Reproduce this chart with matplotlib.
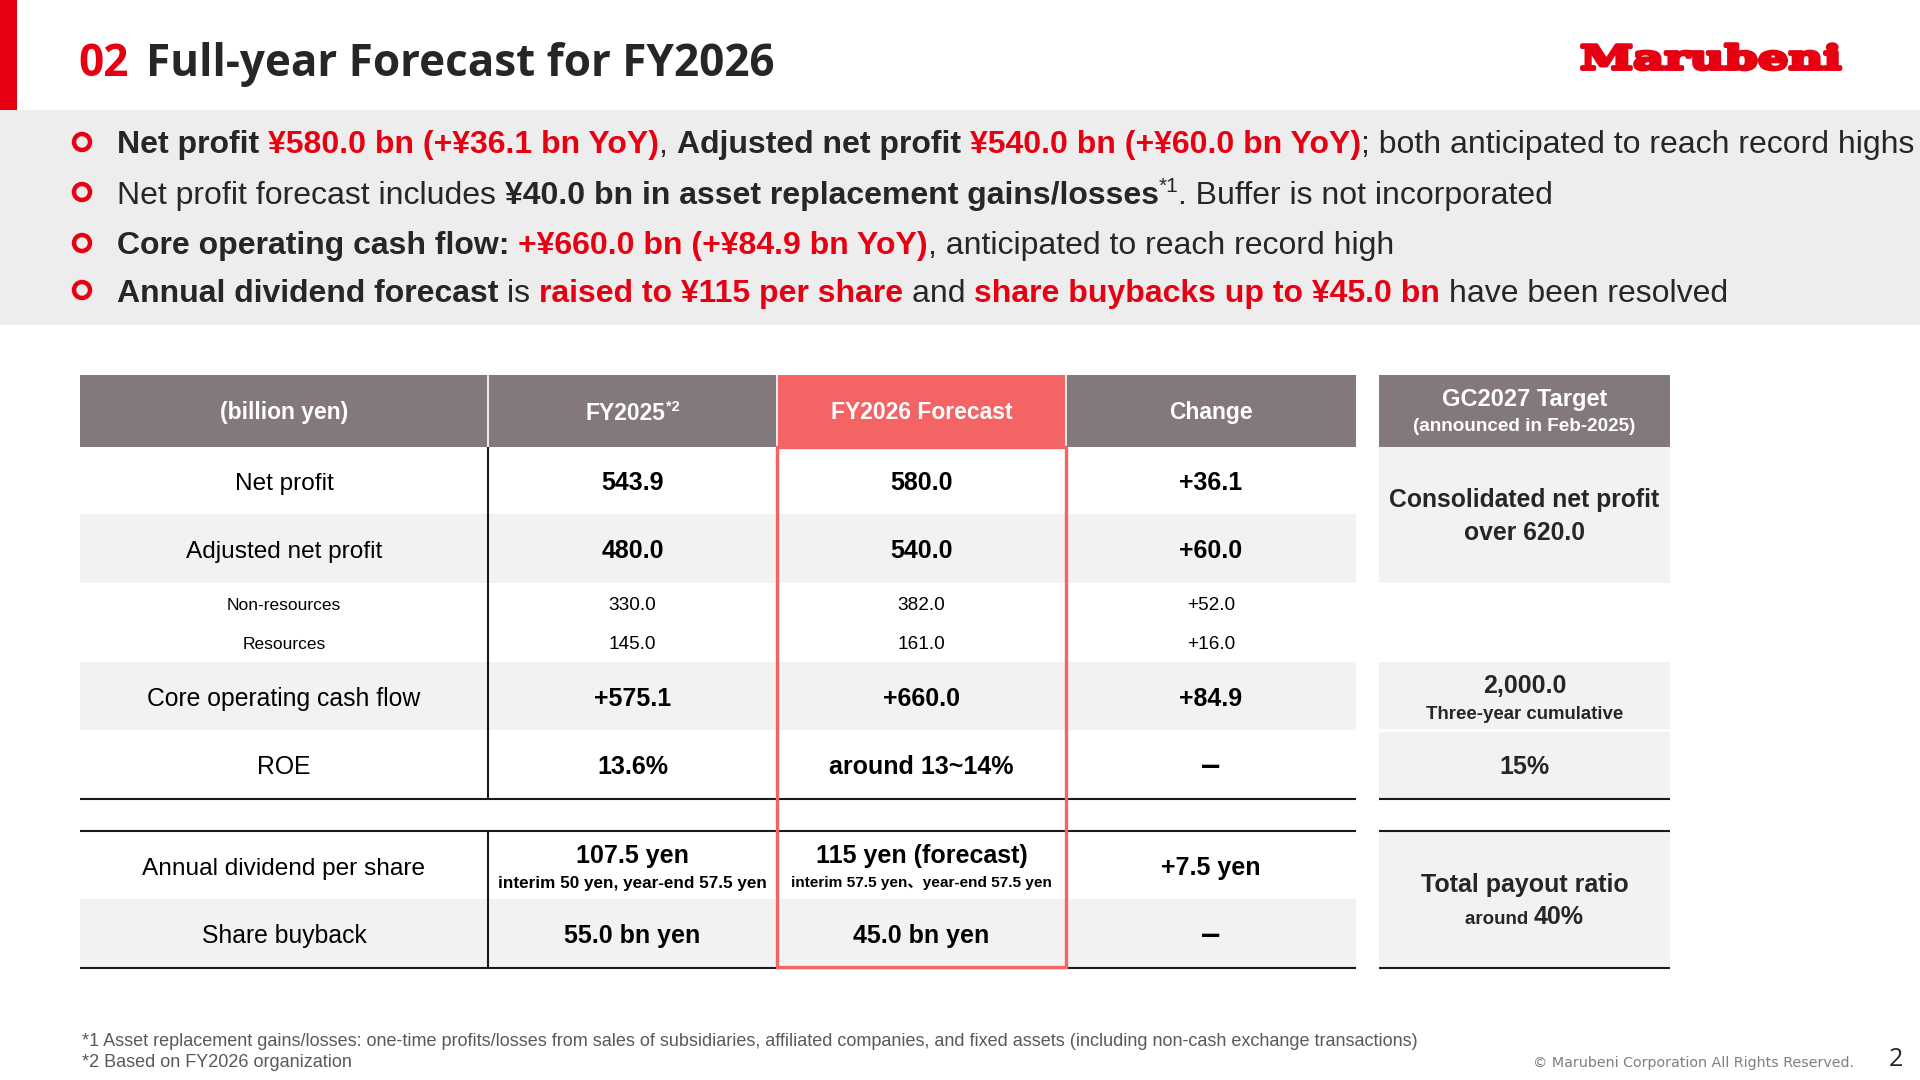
import matplotlib
matplotlib.use('Agg')
import matplotlib.pyplot as plt
from matplotlib.patches import Rectangle, Circle
from matplotlib.patheffects import AbstractPathEffect
from matplotlib.transforms import Affine2D

RED = '#E60012'
SALMON = '#F56464'
HEAD = '#83797C'
DARK = '#262626'
ROW = '#F2F2F2'
BODY = ['Liberation Sans', 'Noto Sans CJK JP']

# table content
headers = ['(billion yen)', 'FY2025', 'FY2026 Forecast', 'Change']
main_labels = ['Net profit', 'Adjusted net profit']
main_fy25 = ['543.9', '480.0']
main_fy26 = ['580.0', '540.0']
main_change = ['+36.1', '+60.0']
sub_labels = ['Non-resources', 'Resources']
sub_fy25 = ['330.0', '145.0']
sub_fy26 = ['382.0', '161.0']
sub_change = ['+52.0', '+16.0']
cf_roe_labels = ['Core operating cash flow', 'ROE']
cf_roe_fy25 = ['+575.1', '13.6%']
cf_roe_fy26 = ['+660.0', 'around 13~14%']
cf_roe_change = ['+84.9', '–']
div_fy25 = ['107.5 yen', 'interim 50 yen, year-end 57.5 yen']
div_fy26 = ['115 yen (forecast)', 'interim 57.5 yen、year-end 57.5 yen']
div_change = '+7.5 yen'
buyback = ['Share buyback', '55.0 bn yen', '45.0 bn yen', '–']

# bullets: (text, weight, colour)
bullets = [
    [('Net profit ', 'bold', DARK), ('¥580.0 bn (+¥36.1 bn YoY)', 'bold', RED), (', ', 'normal', DARK),
     ('Adjusted net profit ', 'bold', DARK), ('¥540.0 bn (+¥60.0 bn YoY)', 'bold', RED),
     ('; both anticipated to reach record highs', 'normal', DARK)],
    [('Net profit forecast includes ', 'normal', DARK), ('¥40.0 bn in asset replacement gains/losses', 'bold', DARK),
     ('*1', 'sup', DARK), ('. Buffer is not incorporated', 'normal', DARK)],
    [('Core operating cash flow: ', 'bold', DARK), ('+¥660.0 bn (+¥84.9 bn YoY)', 'bold', RED),
     (', anticipated to reach record high', 'normal', DARK)],
    [('Annual dividend forecast ', 'bold', DARK), ('is ', 'normal', DARK), ('raised to ¥115 per share ', 'bold', RED),
     ('and ', 'normal', DARK), ('share buybacks up to ¥45.0 bn ', 'bold', RED), ('have been resolved', 'normal', DARK)],
]
footnotes = ['*1 Asset replacement gains/losses: one-time profits/losses from sales of subsidiaries, '
             'affiliated companies, and fixed assets (including non-cash exchange transactions)',
             '*2 Based on FY2026 organization']

fig = plt.figure(figsize=(19.2, 10.8), dpi=100)
ax = fig.add_axes([0, 0, 1, 1])
ax.set_xlim(0, 1920)
ax.set_ylim(1080, 0)
ax.axis('off')
renderer = fig.canvas.get_renderer()


class StretchX(AbstractPathEffect):
    # widens a text around x0, for the logo
    def __init__(self, x0, sx, lw):
        super().__init__()
        self.x0, self.sx, self.lw = x0, sx, lw

    def draw_path(self, renderer, gc, tpath, affine, rgbFace=None):
        stretched = affine + Affine2D().translate(-self.x0, 0).scale(self.sx, 1).translate(self.x0, 0)
        gc0 = renderer.new_gc()
        gc0.copy_properties(gc)
        gc0.set_foreground(rgbFace)
        gc0.set_linewidth(self.lw)
        renderer.draw_path(gc0, tpath, stretched, rgbFace)
        gc0.restore()


def box(x0, y0, x1, y1, color):
    ax.add_patch(Rectangle((x0, y0), x1 - x0, y1 - y0, fc=color, ec='none', zorder=1))


def line(x0, y0, x1, y1, color='#1a1a1a', lw=1.5, z=3):
    ax.plot([x0, x1], [y0, y1], color=color, lw=lw, solid_capstyle='butt', zorder=z)


def advance(s, size, weight, family=BODY):
    # trailing spaces do not count in a bbox, so measure against a dot
    a = ax.text(0, 0, s + '.', fontsize=size, fontweight=weight, family=family)
    b = ax.text(0, 0, '.', fontsize=size, fontweight=weight, family=family)
    w = a.get_window_extent(renderer).width - b.get_window_extent(renderer).width
    a.remove()
    b.remove()
    return w


def label(x, y, s, size=17.8, weight='normal', color='black', family=BODY, ha='center'):
    ax.text(x, y, s, fontsize=size, fontweight=weight, color=color, family=family, ha=ha, va='baseline', zorder=5)


# title bar
box(0, 0, 17, 110, RED)
box(0, 110, 1920, 325, '#EDEDED')
label(78, 76, '02', 31.7, 'bold', RED, ['Open Sans'], 'left')
label(146, 76, 'Full-year Forecast for FY2026', 31.7, 'bold', DARK, ['Open Sans'], 'left')

# logo
ax.text(1580, 69, 'Marubeni', fontsize=23.5, fontweight='bold', color=RED, family='DejaVu Serif', ha='left',
        va='baseline', path_effects=[StretchX(1580, 1.47, 2.8)], zorder=5)

# bullets
for runs, yb, yc in zip(bullets, [153, 204, 254, 302], [142, 192, 243, 290]):
    ax.add_patch(Circle((82, yc), 8, fc='none', ec=RED, lw=3.2, zorder=5))
    x = 117
    for s, kind, col in runs:
        if kind == 'sup':
            label(x, yb - 12, s, 15, 'normal', col, ha='left')
            x += advance(s, 15, 'normal')
        else:
            label(x, yb, s, 23, kind, col, ha='left')
            x += advance(s, 23, kind)

# table geometry
cols = [80, 488, 777, 1066, 1356]
rx0, rx1 = 1379, 1670
centers = [(cols[i] + cols[i + 1]) / 2 for i in range(4)]
rc = (rx0 + rx1) / 2

# header
box(cols[0], 375, cols[2], 447, HEAD)
box(cols[2], 375, cols[3], 447, SALMON)
box(cols[3], 375, cols[4], 447, HEAD)
box(rx0, 375, rx1, 447, HEAD)
line(cols[1], 375, cols[1], 447, 'white', 1.2, 4)
line(cols[2], 375, cols[2], 447, 'white', 1.2, 4)
line(cols[3], 375, cols[3], 447, 'white', 1.2, 4)
label(centers[0], 419, headers[0], 16.5, 'bold', 'white')
label(625, 420, headers[1], 16.5, 'bold', 'white')
label(centers[2], 419, headers[2], 16.5, 'bold', 'white')
label(centers[3], 419, headers[3], 16.5, 'bold', 'white')
label(673, 411, '*2', 10.5, 'bold', 'white')
label(rc, 406, 'GC2027 Target', 17, 'bold', 'white')
label(rc, 431, '(announced in Feb-2025)', 13.6, 'bold', 'white')

# striped rows
box(cols[0], 514, cols[4], 583, ROW)
box(cols[0], 662, cols[4], 730, ROW)
box(cols[0], 899, cols[4], 967, ROW)
box(rx0, 447, rx1, 583, ROW)
box(rx0, 662, rx1, 729, ROW)
box(rx0, 732, rx1, 798, ROW)
box(rx0, 830, rx1, 967, ROW)

# main rows
for i, yb in enumerate([490, 558]):
    label(centers[0], yb, main_labels[i], 17.6)
    label(centers[1], yb, main_fy25[i], 18, 'bold')
    label(centers[2], yb, main_fy26[i], 18, 'bold')
    label(centers[3], yb, main_change[i], 18, 'bold')
for i, yb in enumerate([610, 649]):
    label(centers[0], yb, sub_labels[i], 12.5)
    label(centers[1], yb, sub_fy25[i], 13.7)
    label(centers[2], yb, sub_fy26[i], 13.7)
    label(centers[3], yb, sub_change[i], 13.7)
for i, yb in enumerate([706, 774]):
    label(centers[0], yb, cf_roe_labels[i])
    label(centers[1], yb, cf_roe_fy25[i], 18, 'bold')
    label(centers[2], yb, cf_roe_fy26[i], 18, 'bold')
    if cf_roe_change[i] == '–':
        label(centers[3], yb + 2, cf_roe_change[i], 25, 'bold')
    else:
        label(centers[3], yb, cf_roe_change[i], 18, 'bold')

# dividend rows
label(centers[0], 875, 'Annual dividend per share', 17.6)
label(centers[1], 863, div_fy25[0], 18, 'bold')
label(centers[1], 888, div_fy25[1], 12.36, 'bold')
label(centers[2], 863, div_fy26[0], 18, 'bold')
label(centers[2], 887, div_fy26[1], 11.05, 'bold')
label(centers[3], 875, div_change, 18, 'bold')
label(centers[0], 943, buyback[0])
label(centers[1], 943, buyback[1], 18, 'bold')
label(centers[2], 943, buyback[2], 18, 'bold')
label(centers[3], 945, buyback[3], 25, 'bold')

# target column
label(rc, 507, 'Consolidated net profit', 17.8, 'bold', DARK)
label(rc, 540, 'over 620.0', 17.8, 'bold', DARK)
label(rc, 693, '2,000.0', 18, 'bold', DARK)
label(rc, 719, 'Three-year cumulative', 13.4, 'bold', DARK)
label(rc, 774, '15%', 18, 'bold', DARK)
label(rc, 892, 'Total payout ratio', 18, 'bold', DARK)
w1 = advance('around ', 13.5, 'bold')
w2 = advance('40%', 18, 'bold')
label(rc - (w1 + w2) / 2, 924, 'around ', 13.5, 'bold', DARK, ha='left')
label(rc - (w1 + w2) / 2 + w1, 924, '40%', 18, 'bold', DARK, ha='left')

# rules
line(cols[1], 447, cols[1], 799)
line(cols[1], 831, cols[1], 968)
for y in [799, 831, 968]:
    line(cols[0], y, cols[4], y)
    line(rx0, y, rx1, y)

# forecast frame
ax.add_patch(Rectangle((cols[2], 447), cols[3] - cols[2], 520, fc='none', ec=SALMON, lw=2.4, zorder=6))

# footer
label(82, 1046, footnotes[0], 12.95, 'normal', '#595959', ha='left')
label(82, 1067, footnotes[1], 12.95, 'normal', '#595959', ha='left')
label(1854, 1067, '© Marubeni Corporation All Rights Reserved.', 10.3, 'normal', '#7F7F7F', ['DejaVu Sans'], 'right')
label(1896, 1066, '2', 18, 'normal', DARK, ['Open Sans'])

fig.savefig('out.png', dpi=100)
